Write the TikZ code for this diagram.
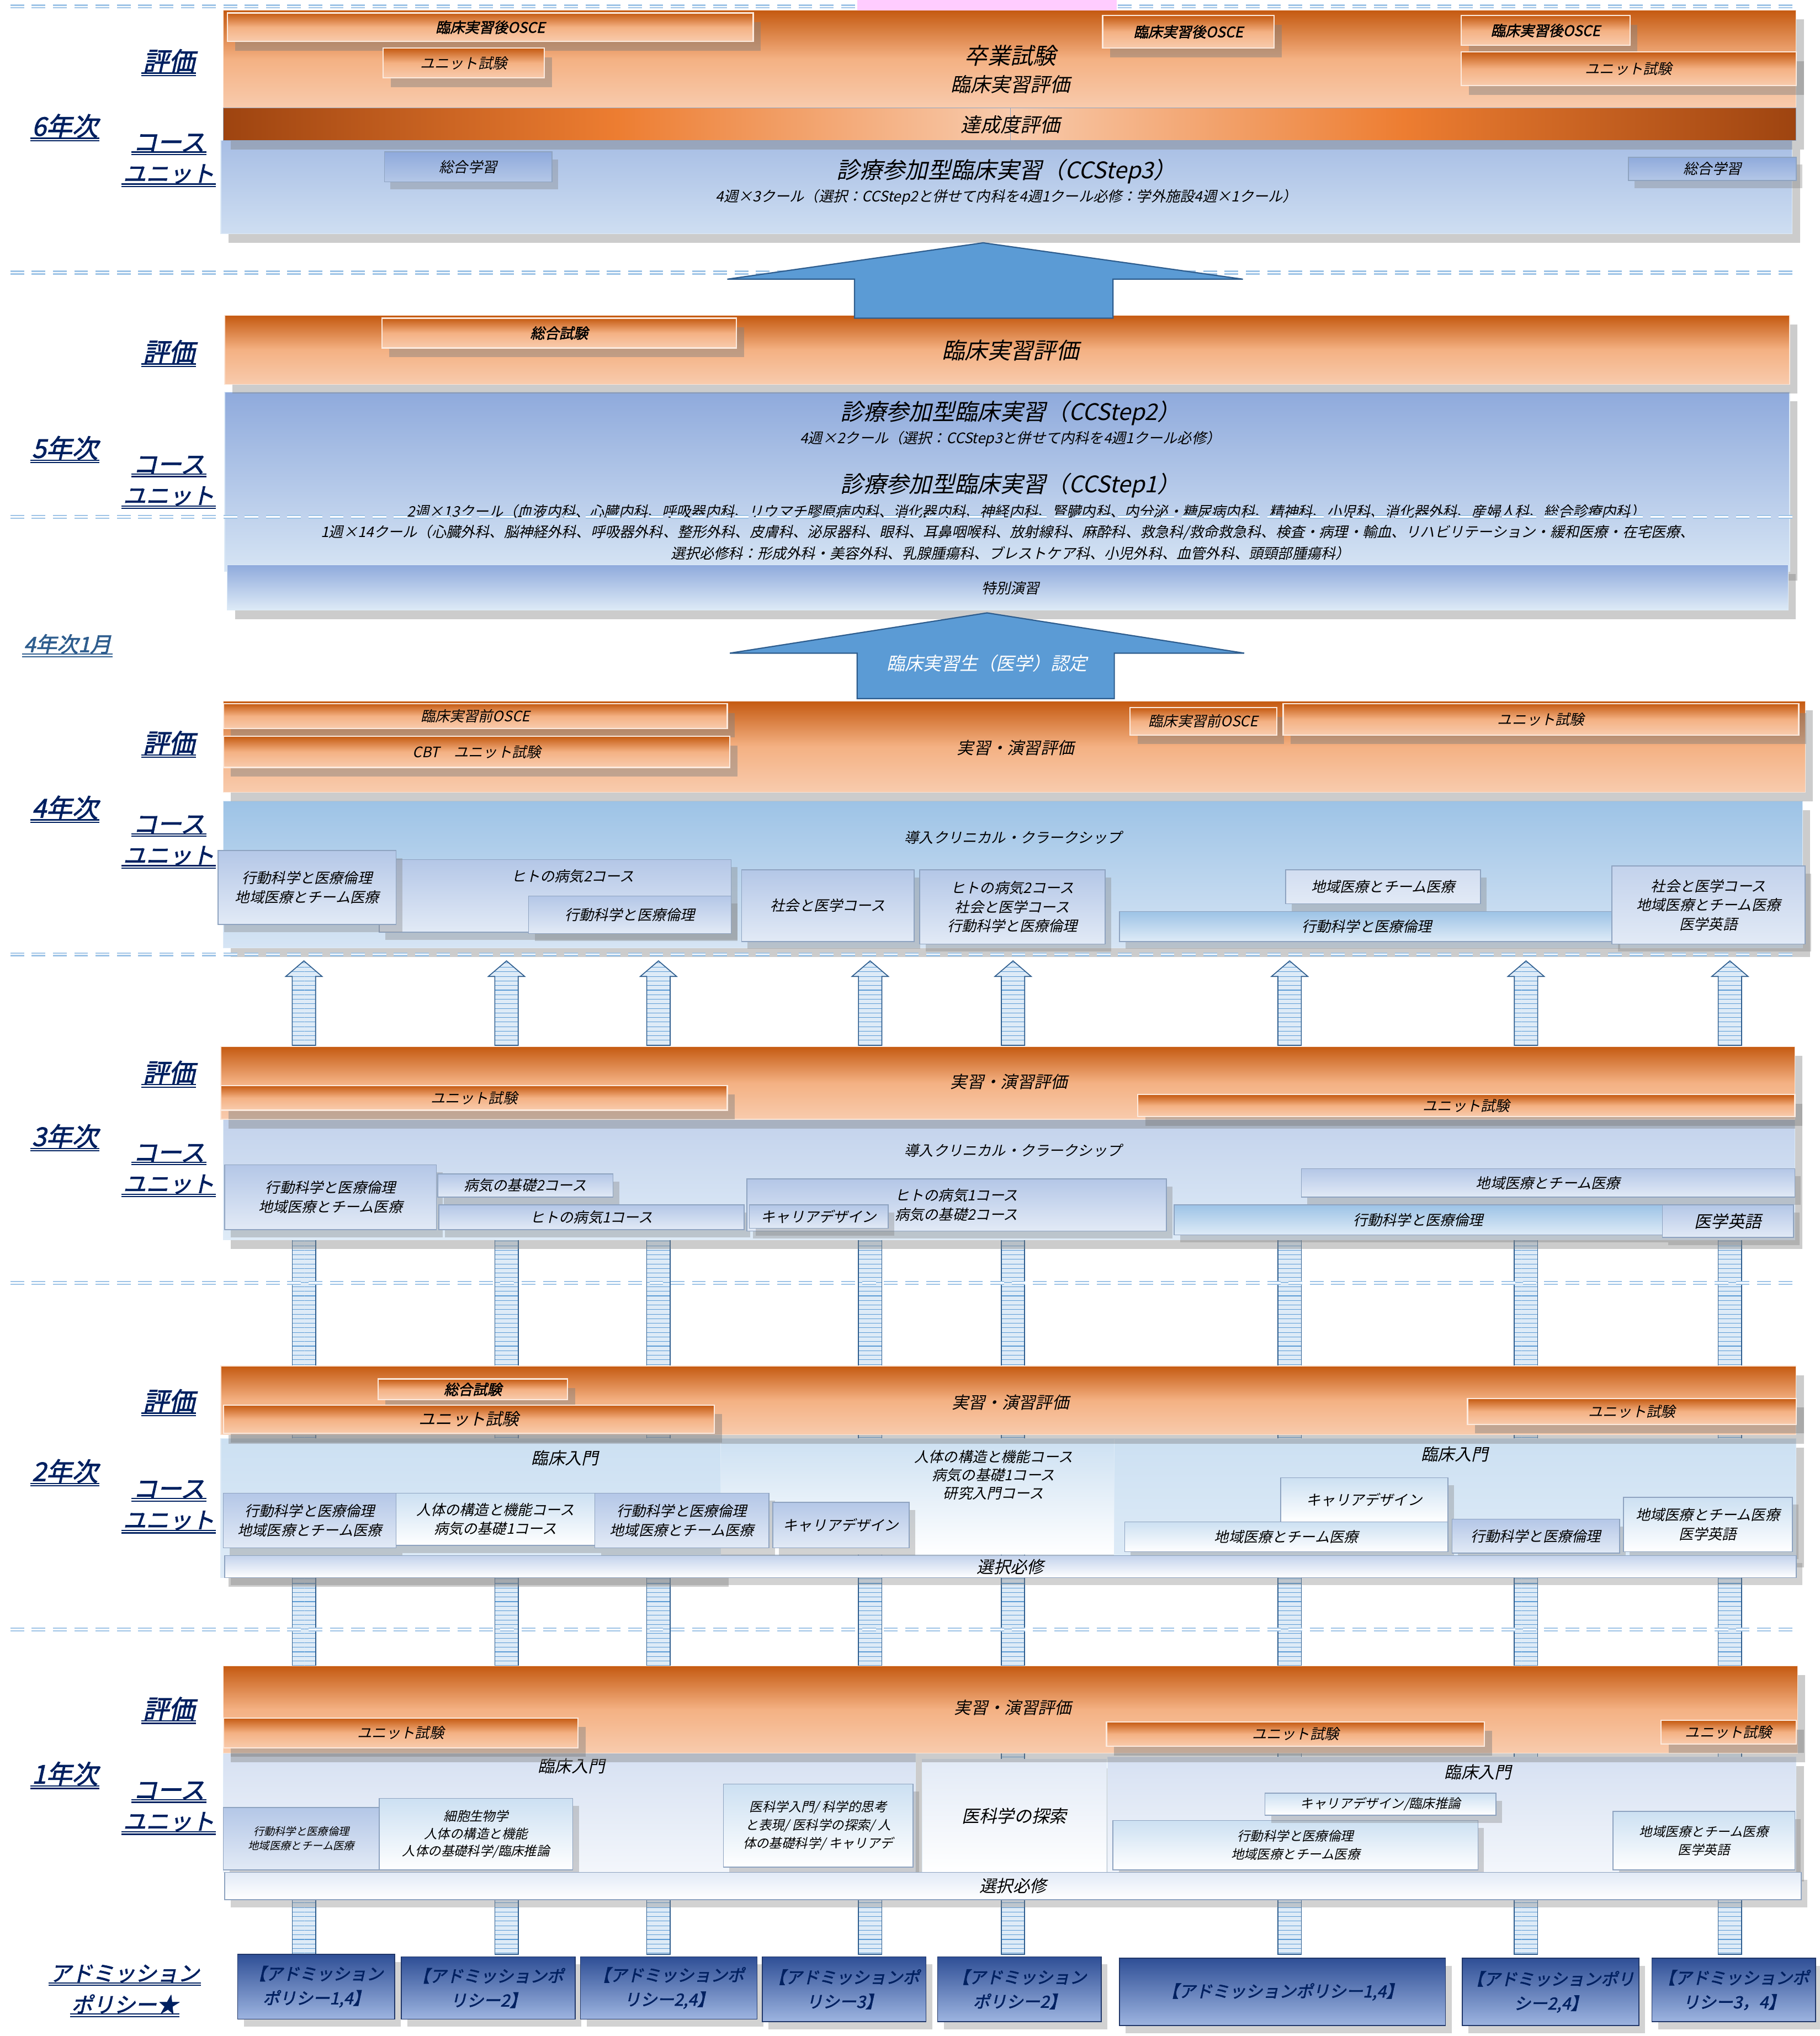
\documentclass[tikz,border=0pt]{standalone}
\usepackage{fontspec}
\setmainfont{Noto Sans CJK JP}[FakeSlant=0.22, AutoFakeBold=2]
\usetikzlibrary{positioning, shadows, patterns, calc}

\definecolor{orngD}{HTML}{C55A11}
\definecolor{orngM}{HTML}{F4B183}
\definecolor{orngL}{HTML}{F8CBAD}
\definecolor{orngX}{HTML}{ED7D31}
\definecolor{brnD}{HTML}{9E4410}
\definecolor{bluD}{HTML}{8FAADC}
\definecolor{bluL}{HTML}{DEEBF7}
\definecolor{unitT}{HTML}{B4C7E7}
\definecolor{unitB}{HTML}{E2EAF6}
\definecolor{unitE}{HTML}{8EA3C0}
\definecolor{unitL}{HTML}{CCE0F2}
\definecolor{navy}{HTML}{002060}
\definecolor{sepblue}{HTML}{9DC3E6}
\definecolor{arrblue}{HTML}{5B9BD5}
\definecolor{arrline}{HTML}{2E5D8E}
\definecolor{pinkbar}{HTML}{FFCCFF}
\definecolor{admT}{HTML}{2F4F96}
\definecolor{admB}{HTML}{9DB4E0}

% box from its corners: [extra]{style}{name}{x1}{y1}{x2}{y2}{text}
\newcommand{\bx}[8][]{\node[#2, #1, anchor=north west, minimum width={(#6-#4)*0.03cm}, minimum height={(#7-#5)*0.03cm}] (#3) at (#4,#5) {#8};}

\begin{document}
\begin{tikzpicture}[x=0.03cm, y=-0.03cm,
						every node/.style={inner sep=1pt, outer sep=0pt, align=center},
						evalblock/.style={rectangle, draw=orngL!50!white, top color=orngD, bottom color=orngL, middle color=orngM, drop shadow={opacity=0.4, shadow xshift=5pt, shadow yshift=-6pt}},
						subeval/.style={rectangle, draw=white!60!orngL, line width=0.8pt, top color=orngD, bottom color=orngL, middle color=orngM, drop shadow={opacity=0.45, shadow xshift=5pt, shadow yshift=-6pt}, font=\fontsize{9.5}{12}\selectfont},
						oscebox/.style={subeval, font=\bfseries\fontsize{9.5}{12}\selectfont},
						barblock/.style={rectangle, draw=unitE, drop shadow={opacity=0.4, shadow xshift=5pt, shadow yshift=-6pt}},
						courseblock/.style={rectangle, draw=bluL, top color=bluD, bottom color=bluL, drop shadow={opacity=0.4, shadow xshift=5pt, shadow yshift=-6pt}},
						unitblock/.style={rectangle, draw=unitE, line width=0.6pt, top color=unitT, bottom color=unitB, drop shadow={opacity=0.35, shadow xshift=4pt, shadow yshift=-5pt}, font=\fontsize{9.5}{12.5}\selectfont},
						unitlite/.style={unitblock, top color=unitL, bottom color=white},
						admblock/.style={rectangle, draw=admT!70!black, line width=0.6pt, top color=admT, bottom color=admB, drop shadow={opacity=0.35, shadow xshift=4pt, shadow yshift=-5pt}, font=\bfseries\fontsize{11}{16}\selectfont, text=navy},
						yearlabel/.style={font=\bfseries\fontsize{17}{19}\selectfont, text=navy},
						ulab/.style={draw=navy, line width=0.8pt, double=white, double distance=0.8pt},
						sepline/.style={draw=sepblue, line width=0.9pt, double=white, double distance=0.9pt, dash pattern=on 9pt off 5pt},
						bigarrow/.style={fill=arrblue, draw=arrline, line width=0.8pt},
						stripe/.style={draw=arrline, line width=0.6pt, preaction={fill=bluL}, pattern=horizontal lines, pattern color=arrblue},
						bigtxt/.style={font=\fontsize{15}{18}\selectfont},
						midtxt/.style={font=\fontsize{13}{16}\selectfont},
						evtxt/.style={font=\fontsize{11}{14}\selectfont},
						smalltxt/.style={font=\fontsize{9.5}{12}\selectfont},
						tinytxt/.style={font=\fontsize{7.5}{10}\selectfont}
						]
						
						\fill[white] (0,0) rectangle (1401,1568);
						\useasboundingbox (0,0) rectangle (1401,1568);
						
						% striped connectors behind the years
						\foreach \x in {234,390,507,670,780,993,1175,1332}{
							\draw[stripe] (\x-9,950) rectangle (\x+9,1505);
							\draw[stripe] (\x-9,805) -- (\x-9,752) -- (\x-14,752) -- (\x,740) -- (\x+14,752) -- (\x+9,752) -- (\x+9,805) -- cycle;
						}
						
						% 6th year
						\bx[top color=bluD!70!bluL, bottom color=bluL!80!bluD]{courseblock}{c6}{170}{108}{1380}{180}{}
						\bx{evalblock}{e6}{172}{8}{1383}{83}{}
						\bx{oscebox}{e6a}{175}{10}{580}{32}{臨床実習後OSCE}
						\bx{subeval}{e6b}{295}{37}{419}{60}{ユニット試験}
						\bx{oscebox}{e6c}{849}{12}{981}{37}{臨床実習後OSCE}
						\bx{oscebox}{e6d}{1125}{12}{1255}{35}{臨床実習後OSCE}
						\bx{subeval}{e6e}{1125}{40}{1383}{66}{ユニット試験}
						\node[bigtxt] (e6t) at (778,43) {卒業試験};
						\node[midtxt] (e6s) at (778,65) {臨床実習評価};
						\bx[left color=brnD, right color=orngL, middle color=orngX]{barblock}{a6l}{172}{83}{778}{108}{}
						\bx[left color=orngL, right color=brnD, middle color=orngX]{barblock}{a6r}{778}{83}{1383}{108}{}
						\node[midtxt] (a6t) at (778,96) {達成度評価};
						\bx[top color=bluD, bottom color=unitT]{unitblock}{u6a}{296}{117}{425}{140}{総合学習}
						\bx[top color=bluD, bottom color=unitT]{unitblock}{u6b}{1254}{121}{1383}{139}{総合学習}
						\node[bigtxt] (c6t) at (775,132) {診療参加型臨床実習（CCStep3）};
						\node[smalltxt] (c6s) at (775,152) {4週×3クール（選択：CCStep2と併せて内科を4週1クール必修：学外施設4週×1クール）};
						
						% 5th year
						\bx[top color=bluD, bottom color=bluL!90!bluD]{courseblock}{c5}{173}{302}{1378}{440}{}
						\bx[top color=bluD, bottom color=bluL]{courseblock}{sp5}{175}{435}{1377}{470}{}
						\node[smalltxt] (sp5t) at (778,453) {特別演習};
						\bx{evalblock}{e5}{173}{243}{1378}{296}{}
						\bx{oscebox}{e5a}{294}{245}{567}{268}{総合試験}
						\node[bigtxt] (e5t) at (778,270) {臨床実習評価};
						\node[bigtxt] (c5a) at (778,318) {診療参加型臨床実習（CCStep2）};
						\node[smalltxt] (c5b) at (778,338) {4週×2クール（選択：CCStep3と併せて内科を4週1クール必修）};
						\node[bigtxt] (c5c) at (778,374) {診療参加型臨床実習（CCStep1）};
						\node[smalltxt] (c5d) at (790,394) {2週×13クール（血液内科、心臓内科、呼吸器内科、リウマチ膠原病内科、消化器内科、神経内科、腎臓内科、内分泌・糖尿病内科、精神科、小児科、消化器外科、産婦人科、総合診療内科）};
						\node[smalltxt] (c5e) at (776,410) {1週×14クール（心臓外科、脳神経外科、呼吸器外科、整形外科、皮膚科、泌尿器科、眼科、耳鼻咽喉科、放射線科、麻酔科、救急科/救命救急科、検査・病理・輸血、リハビリテーション・緩和医療・在宅医療、};
						\node[smalltxt] (c5f) at (778,426) {選択必修科：形成外科・美容外科、乳腺腫瘍科、ブレストケア科、小児外科、血管外科、頭頸部腫瘍科）};
						
						\draw[bigarrow] (562,503) -- (760,472) -- (958,503) -- (858,503) -- (858,538) -- (660,538) -- (660,503) -- cycle;
						\node[font=\fontsize{12}{14}\selectfont, text=white] (cert) at (760,511) {臨床実習生（医学）認定};
						
						% 4th year
						\bx[top color=sepblue, bottom color=bluL!90!bluD]{courseblock}{c4}{172}{617}{1388}{730}{}
						\node[smalltxt] (c4t) at (780,645) {導入クリニカル・クラークシップ};
						\bx{unitblock}{u4b}{292}{662}{563}{718}{}
						\node[smalltxt] (u4bt) at (441,675) {ヒトの病気2コース};
						\bx{unitblock}{u4a}{168}{655}{305}{712}{行動科学と医療倫理\\地域医療とチーム医療}
						\bx{unitblock}{u4c}{407}{690}{563}{719}{行動科学と医療倫理}
						\bx{unitblock}{u4d}{571}{670}{704}{725}{社会と医学コース}
						\bx{unitblock}{u4e}{708}{670}{851}{727}{ヒトの病気2コース\\社会と医学コース\\行動科学と医療倫理}
						\bx[top color=sepblue, bottom color=bluL]{unitblock}{u4g}{862}{702}{1243}{725}{行動科学と医療倫理}
						\bx[top color=unitT!60!white, bottom color=unitB]{unitblock}{u4f}{990}{670}{1140}{696}{地域医療とチーム医療}
						\bx[top color=unitT!80!white, bottom color=unitB]{unitblock}{u4h}{1241}{667}{1390}{727}{社会と医学コース\\地域医療とチーム医療\\医学英語}
						\bx{evalblock}{e4}{172}{540}{1390}{610}{}
						\bx{subeval}{e4a}{172}{542}{560}{561}{臨床実習前OSCE}
						\bx{subeval}{e4b}{172}{567}{562}{591}{CBT　ユニット試験}
						\bx{subeval}{e4c}{870}{545}{983}{566}{臨床実習前OSCE}
						\bx{subeval}{e4d}{988}{542}{1385}{566}{ユニット試験}
						\node[evtxt] (e4t) at (782,576) {実習・演習評価};
						
						% 3rd year
						\bx[top color=unitT!80!white, bottom color=bluL]{courseblock}{c3}{172}{862}{1382}{955}{}
						\node[smalltxt] (c3t) at (780,886) {導入クリニカル・クラークシップ};
						\bx{unitblock}{u3a}{173}{897}{336}{947}{行動科学と医療倫理\\地域医療とチーム医療}
						\bx{unitblock}{u3b}{337}{904}{472}{922}{病気の基礎2コース}
						\bx{unitblock}{u3c}{338}{928}{573}{947}{ヒトの病気1コース}
						\bx{unitblock}{u3d}{575}{908}{898}{948}{ヒトの病気1コース\\病気の基礎2コース}
						\bx{unitblock}{u3e}{577}{928}{684}{946}{キャリアデザイン}
						\bx{unitblock}{u3f}{1002}{900}{1382}{922}{地域医療とチーム医療}
						\bx[top color=sepblue, bottom color=bluL]{unitblock}{u3g}{904}{928}{1280}{951}{行動科学と医療倫理}
						\bx[font=\fontsize{11}{14}\selectfont]{unitblock}{u3h}{1280}{928}{1381}{953}{医学英語}
						\bx{evalblock}{e3}{170}{806}{1382}{862}{}
						\bx{subeval}{e3a}{170}{836}{560}{855}{ユニット試験}
						\bx{subeval}{e3b}{876}{843}{1382}{860}{ユニット試験}
						\node[evtxt] (e3t) at (777,833) {実習・演習評価};
						
						% 2nd year
						\bx[top color=unitL, bottom color=bluL]{courseblock}{c2a}{170}{1108}{555}{1215}{}
						\node[evtxt] (c2at) at (435,1123) {臨床入門};
						\bx[top color=unitL, bottom color=white]{courseblock}{c2b}{555}{1108}{858}{1197}{}
						\node[smalltxt] (c2bt) at (765,1136) {人体の構造と機能コース\\病気の基礎1コース\\研究入門コース};
						\bx[top color=unitL, bottom color=bluL]{courseblock}{c2c}{858}{1108}{1383}{1200}{}
						\node[evtxt] (c2ct) at (1120,1120) {臨床入門};
						\bx{unitblock}{u2a}{172}{1150}{305}{1192}{行動科学と医療倫理\\地域医療とチーム医療}
						\bx{unitlite}{u2b}{305}{1150}{458}{1190}{人体の構造と機能コース\\病気の基礎1コース}
						\bx{unitblock}{u2c}{458}{1150}{592}{1192}{行動科学と医療倫理\\地域医療とチーム医療}
						\bx{unitblock}{u2d}{595}{1157}{700}{1192}{キャリアデザイン}
						\bx{unitlite}{u2e}{986}{1138}{1115}{1172}{キャリアデザイン}
						\bx{unitlite}{u2f}{866}{1172}{1115}{1195}{地域医療とチーム医療}
						\bx{unitblock}{u2g}{1118}{1170}{1247}{1196}{行動科学と医療倫理}
						\bx{unitlite}{u2h}{1250}{1153}{1380}{1195}{地域医療とチーム医療\\医学英語}
						\bx[top color=unitT!80!white, bottom color=white, font=\fontsize{11}{14}\selectfont]{unitblock}{s2}{173}{1198}{1383}{1215}{選択必修}
						\bx{evalblock}{e2}{170}{1052}{1383}{1105}{}
						\bx{oscebox}{e2a}{291}{1062}{437}{1078}{総合試験}
						\bx[font=\fontsize{11}{14}\selectfont]{subeval}{e2b}{172}{1082}{550}{1104}{ユニット試験}
						\bx{subeval}{e2c}{1130}{1077}{1383}{1097}{ユニット試験}
						\node[evtxt] (e2t) at (778,1080) {実習・演習評価};
						
						% 1st year
						\bx[top color=unitT!55!white, bottom color=unitB!40!white]{courseblock}{c1a}{172}{1350}{705}{1442}{}
						\node[evtxt] (c1at) at (440,1360) {臨床入門};
						\bx[top color=unitB, bottom color=white, font=\fontsize{11.5}{14}\selectfont]{courseblock}{c1b}{710}{1355}{852}{1442}{医科学の探索}
						\bx[top color=unitT!55!white, bottom color=unitB!40!white]{courseblock}{c1c}{853}{1353}{1383}{1442}{}
						\node[evtxt] (c1ct) at (1138,1365) {臨床入門};
						\bx[font=\fontsize{7}{9.5}\selectfont]{unitblock}{u1a}{172}{1392}{292}{1440}{行動科学と医療倫理\\地域医療とチーム医療}
						\bx[font=\fontsize{8.5}{11.5}\selectfont]{unitlite}{u1b}{292}{1385}{441}{1440}{細胞生物学\\人体の構造と機能\\人体の基礎科学/臨床推論}
						\bx[font=\fontsize{8.5}{12}\selectfont]{unitlite}{u1c}{557}{1374}{703}{1438}{医科学入門/ 科学的思考\\と表現/ 医科学の探索/ 人\\体の基礎科学/ キャリアデ}
						\bx[font=\fontsize{8.5}{12}\selectfont]{unitlite}{u1e}{857}{1402}{1138}{1440}{行動科学と医療倫理\\地域医療とチーム医療}
						\bx[font=\fontsize{8.5}{12}\selectfont]{unitlite}{u1d}{974}{1381}{1152}{1398}{キャリアデザイン/臨床推論}
						\bx[font=\fontsize{8.5}{12}\selectfont]{unitlite}{u1f}{1242}{1395}{1382}{1440}{地域医療とチーム医療\\医学英語}
						\bx[top color=unitB, bottom color=white, font=\fontsize{11}{14}\selectfont]{unitblock}{s1}{173}{1442}{1387}{1463}{選択必修}
						\bx{evalblock}{e1}{172}{1283}{1384}{1350}{}
						\bx{subeval}{e1a}{172}{1323}{445}{1346}{ユニット試験}
						\bx{subeval}{e1b}{852}{1326}{1143}{1345}{ユニット試験}
						\bx{subeval}{e1c}{1279}{1325}{1383}{1343}{ユニット試験}
						\node[evtxt] (e1t) at (780,1315) {実習・演習評価};
						
						% admission policies
						\bx{admblock}{ad1}{183}{1505}{304}{1555}{【アドミッション\\ポリシー1,4】}
						\bx{admblock}{ad2}{309}{1507}{443}{1555}{【アドミッションポ\\リシー2】}
						\bx{admblock}{ad3}{447}{1507}{583}{1555}{【アドミッションポ\\リシー2,4】}
						\bx{admblock}{ad4}{587}{1507}{713}{1557}{【アドミッションポ\\リシー3】}
						\bx{admblock}{ad5}{722}{1507}{848}{1557}{【アドミッション\\ポリシー2】}
						\bx{admblock}{ad6}{862}{1508}{1113}{1560}{【アドミッションポリシー1,4】}
						\bx{admblock}{ad7}{1126}{1508}{1262}{1560}{【アドミッションポリ\\シー2,4】}
						\bx{admblock}{ad8}{1272}{1508}{1398}{1557}{【アドミッションポ\\リシー3，4】}
						
						% separators
						\foreach \y in {5,210,398,735,988,1255}
							\draw[sepline] (8,\y) -- (1382,\y);
						\fill[pinkbar] (660,0) rectangle (860,8);
						\draw[bigarrow] (560,215) -- (757,187) -- (957,215) -- (857,215) -- (857,245) -- (658,245) -- (658,215) -- cycle;
						
						% row labels
						\node[yearlabel] (y6) at (50,97) {6年次};
						\node[yearlabel] (y5) at (50,345) {5年次};
						\node[yearlabel] (y4) at (50,622) {4年次};
						\node[yearlabel] (y3) at (50,875) {3年次};
						\node[yearlabel] (y2) at (50,1133) {2年次};
						\node[yearlabel] (y1) at (50,1366) {1年次};
						\node[yearlabel, font=\bfseries\fontsize{14}{16}\selectfont, text=arrline] (jan4) at (52,496) {4年次1月};
						\foreach \n/\y in {6/47, 5/271, 4/572, 3/826, 2/1079, 1/1316}{
							\node[yearlabel] (h\n) at (130,\y) {評価};
						}
						\foreach \n/\y in {6/110, 5/358, 4/635, 3/888, 2/1147, 1/1379}{
							\node[yearlabel, font=\bfseries\fontsize{16}{18}\selectfont] (k\n) at (130,\y) {コース};
							\node[yearlabel, font=\bfseries\fontsize{15}{18}\selectfont, below=0.22cm of k\n] (n\n) {ユニット};
						}
						\node[yearlabel, font=\bfseries\fontsize{14}{16}\selectfont] (adm) at (96,1520) {アドミッション};
						\node[yearlabel, font=\bfseries\fontsize{14}{16}\selectfont, below=0.2cm of adm] (pol) {ポリシー★};
						\foreach \n in {y6,y5,y4,y3,y2,y1,h6,h5,h4,h3,h2,h1,k6,k5,k4,k3,k2,k1,n6,n5,n4,n3,n2,n1,adm,pol}
							\draw[ulab] (\n.south west) -- (\n.south east);
						\draw[ulab, draw=arrline] (jan4.south west) -- (jan4.south east);
					\end{tikzpicture}
\end{document}
